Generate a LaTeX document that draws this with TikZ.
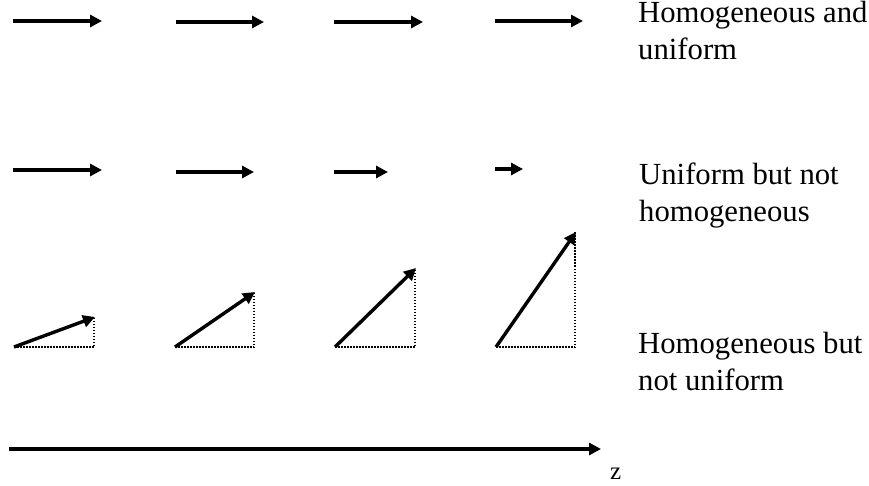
\documentclass[tikz,border=0pt]{standalone}
\usepackage{fontspec}
\setmainfont{Liberation Serif}
\usetikzlibrary{arrows.meta}
\begin{document}
\begin{tikzpicture}[x=1pt,y=-1pt,
  vec/.style={line width=3.4pt,-{Triangle[length=12pt,width=12pt]}},
  guide/.style={line width=1.3pt,dash pattern=on 1.5pt off 1.5pt},
  lbl/.style={anchor=base west,inner sep=0pt,align=left,
    font=\fontsize{30.7}{37}\selectfont}]
\useasboundingbox (0,0) rectangle (869,486);
% row 1
\coordinate (a1) at (13,21);  \coordinate (b1) at (102,21);
\coordinate (a2) at (176,22); \coordinate (b2) at (264,22);
\coordinate (a3) at (334,22); \coordinate (b3) at (423,22);
\coordinate (a4) at (495,21); \coordinate (b4) at (583,21);
\foreach \i in {1,2,3,4} \draw[vec] (a\i) -- (b\i);
% row 2
\coordinate (c1) at (13,170);  \coordinate (d1) at (102,170);
\coordinate (c2) at (176,172); \coordinate (d2) at (254,172);
\coordinate (c3) at (334,172); \coordinate (d3) at (388,172);
\coordinate (c4) at (495,169); \coordinate (d4) at (523,169);
\foreach \i in {1,2,3,4} \draw[vec] (c\i) -- (d\i);
% row 3
\coordinate (e1) at (14,347);  \coordinate (f1) at (95,317);  \coordinate (g1) at (94,347);
\coordinate (e2) at (175,347); \coordinate (f2) at (255,292); \coordinate (g2) at (254,347);
\coordinate (e3) at (335,347); \coordinate (f3) at (416,268); \coordinate (g3) at (415,347);
\coordinate (e4) at (496,347); \coordinate (f4) at (576,232); \coordinate (g4) at (575,347);
\draw[guide] (e1) -- (g1) -- (94,317);
\draw[guide] (e2) -- (g2) -- (254,292);
\draw[guide] (e3) -- (g3) -- (415,268);
\draw[guide] (e4) -- (g4) -- (575,232);
\foreach \i in {1,2,3,4} \draw[vec] (e\i) -- (f\i);
% axis
\coordinate (z0) at (9,449);
\coordinate (z1) at (601,449);
\draw[vec] (z0) -- (z1);
\node[anchor=base west,inner sep=0pt,font=\fontsize{25}{29}\selectfont] (zl) at (610,479) {z};
% labels (anchored at the baseline of their last line)
\node[lbl] (l1) at (638,60) {Homogeneous and\\uniform};
\node[lbl] (l2) at (639,222) {Uniform but not\\homogeneous};
\node[lbl] (l3) at (638,390) {Homogeneous but\\not uniform};
\end{tikzpicture}
\end{document}
